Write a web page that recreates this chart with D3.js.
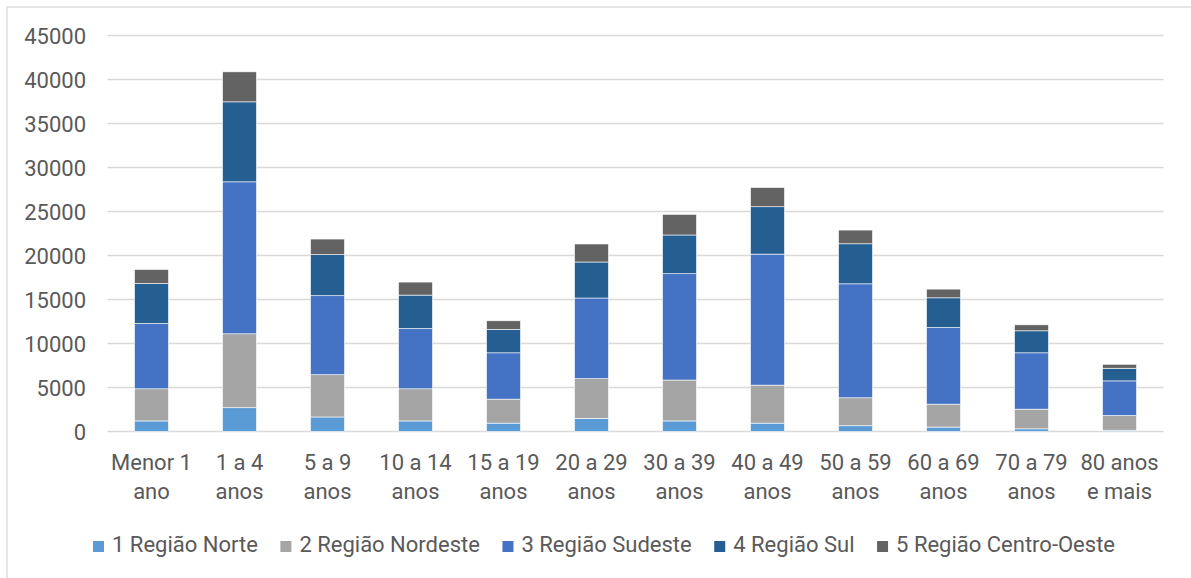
<!DOCTYPE html>
<html>
<head>
<meta charset="utf-8">
<script src="https://cdn.jsdelivr.net/npm/d3@7"></script>
<style>
  html, body { margin: 0; padding: 0; background: #fff; }
  svg { display: block; }
  text { font-family: Roboto, "Liberation Sans", sans-serif; fill: #595959; }
</style>
</head>
<body>
<svg id="chart" width="1191" height="578"></svg>
<script>
// Age groups (two-line labels)
const categories = [
  ["Menor 1", "ano"], ["1 a 4", "anos"], ["5 a 9", "anos"], ["10 a 14", "anos"],
  ["15 a 19", "anos"], ["20 a 29", "anos"], ["30 a 39", "anos"], ["40 a 49", "anos"],
  ["50 a 59", "anos"], ["60 a 69", "anos"], ["70 a 79", "anos"], ["80 anos", "e mais"]
];

const seriesNames = ["1 Região Norte", "2 Região Nordeste", "3 Região Sudeste", "4 Região Sul", "5 Região Centro-Oeste"];
const seriesColors = ["#5b9bd5", "#a5a5a5", "#4472c4", "#255e91", "#636363"];

const norte    = [1200, 2700, 1650, 1200,  950, 1500,  1200,   950,   650,  500,  300,  150];
const nordeste = [3650, 8400, 4800, 3650, 2730, 4500,  4650,  4320,  3180, 2610, 2240, 1660];
const sudeste  = [7420, 17270, 8980, 6850, 5260, 9170, 12080, 14890, 12950, 8700, 6400, 3940];
const sul      = [4550, 9090, 4660, 3800, 2650, 4090,  4400,  5380,  4550, 3380, 2500, 1440];
const centroOeste = [1590, 3410, 1780, 1480, 990, 2050, 2350, 2190, 1560, 990, 680, 450];

const yTicks = [0, 5000, 10000, 15000, 20000, 25000, 30000, 35000, 40000, 45000];

const seriesValues = [norte, nordeste, sudeste, sul, centroOeste];
const table = categories.map((c, i) => {
  const row = { key: i };
  seriesNames.forEach((s, j) => { row[s] = seriesValues[j][i]; });
  return row;
});

const svg = d3.select("#chart");

// outer frame
svg.append("rect")
  .attr("x", 7).attr("y", 7).attr("width", 1200).attr("height", 600)
  .attr("fill", "none").attr("stroke", "#d9d9d9").attr("stroke-width", 1.3);

const x = d3.scaleBand()
  .domain(d3.range(categories.length))
  .range([107.5, 1163.5])
  .paddingInner(0.614)
  .paddingOuter(0.307);

const y = d3.scaleLinear().domain([0, 45000]).range([431.5, 35.5]);

// gridlines
svg.append("g")
  .selectAll("line")
  .data(yTicks)
  .join("line")
  .attr("x1", 107.5).attr("x2", 1163.5)
  .attr("y1", d => y(d)).attr("y2", d => y(d))
  .attr("stroke", "#d9d9d9").attr("stroke-width", 1.4);

// y axis labels
const yAxis = d3.axisLeft(y).tickValues(yTicks).tickSize(0).tickPadding(0).tickFormat(d3.format("d"));
const gy = svg.append("g").attr("transform", "translate(86,0)").call(yAxis);
gy.select(".domain").remove();
gy.selectAll("text")
  .attr("font-size", 22)
  .attr("font-family", null)
  .attr("fill", "#595959")
  .attr("dy", "0.36em");

// stacked bars
const stack = d3.stack().keys(seriesNames);
const layers = stack(table);

svg.append("g")
  .selectAll("g")
  .data(layers)
  .join("g")
  .attr("fill", (d, i) => seriesColors[i])
  .selectAll("rect")
  .data(d => d)
  .join("rect")
  .attr("x", d => x(d.data.key))
  .attr("width", x.bandwidth())
  .attr("y", d => y(d[1]))
  .attr("height", d => y(d[0]) - y(d[1]))
  .attr("stroke", "#ffffff")
  .attr("stroke-width", 0.6);

// category labels
const gx = svg.append("g");
categories.forEach((lines, i) => {
  const t = gx.append("text")
    .attr("text-anchor", "middle")
    .attr("font-size", 22)
    .attr("x", x(i) + x.bandwidth() / 2);
  lines.forEach((ln, k) => {
    t.append("tspan")
      .attr("x", x(i) + x.bandwidth() / 2)
      .attr("y", 470 + k * 29)
      .text(ln);
  });
});

// legend
const legend = svg.append("g");
const items = seriesNames.map((name, i) => {
  const g = legend.append("g");
  g.append("rect").attr("width", 11).attr("height", 11).attr("y", -11).attr("fill", seriesColors[i]);
  const t = g.append("text").attr("x", 19).attr("font-size", 22).text(name);
  return { g, w: 19 + t.node().getComputedTextLength() };
});
const legendLeft = 93, legendRight = 1115;
const gap = (legendRight - legendLeft - d3.sum(items, d => d.w)) / (items.length - 1);
let cx = legendLeft;
items.forEach(it => {
  it.g.attr("transform", `translate(${cx},552)`);
  cx += it.w + gap;
});
</script>
</body>
</html>
